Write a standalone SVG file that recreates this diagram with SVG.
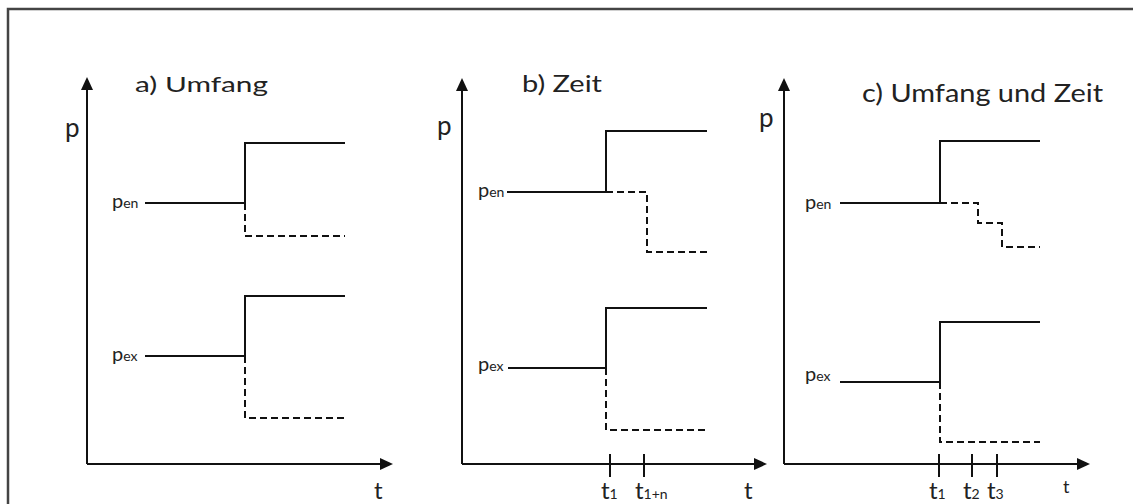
<svg xmlns="http://www.w3.org/2000/svg" width="1133" height="504" viewBox="0 0 1133 504">
<style>
text{font-family:Lato,"Open Sans","Liberation Sans",sans-serif;fill:#222}
.ax{stroke:#111;stroke-width:2;fill:none;marker-end:url(#arr)}
.sol{stroke:#111;stroke-width:2;fill:none}
.dash{stroke:#111;stroke-width:2;fill:none;stroke-dasharray:7,4}
.tick{stroke:#111;stroke-width:2}
.ttl{font-size:22px}
.p{font-size:26px}
.ps{font-size:20px}
.sub{font-size:14px}
.t{font-size:24px}
.ts{font-size:14px}
</style>
<defs>
<marker id="arr" markerUnits="userSpaceOnUse" markerWidth="14" markerHeight="12" refX="3" refY="6" orient="auto">
<path d="M0,0 L13,6 L0,12 z" fill="#111"/>
</marker>
</defs>
<rect width="1133" height="504" fill="#fff"/>
<g id="frame">
<path d="M8,504 V9 H1133" stroke="#444" stroke-width="2.5" fill="none"/>
</g>
<g id="panel-a">
<g id="axes-a">
<path class="ax" d="M87,464 V87"/>
<path class="ax" d="M87,464 H383"/>
</g>
<text class="ttl" x="135" y="92" textLength="133" lengthAdjust="spacingAndGlyphs">a) Umfang</text>
<text class="p" x="65" y="137">p</text>
<text x="112" y="208"><tspan class="ps">p</tspan><tspan class="sub">en</tspan></text>
<text x="112" y="361"><tspan class="ps">p</tspan><tspan class="sub">ex</tspan></text>
<path class="sol" d="M145,203 H245 V143 H345"/>
<path class="dash" d="M245,203 V236 H345"/>
<path class="sol" d="M145,356 H245 V296 H345"/>
<path class="dash" d="M245,356 V418 H345"/>
<text class="t" x="374" y="499">t</text>
</g>
<g id="panel-b">
<g id="axes-b">
<path class="ax" d="M462,464 V88"/>
<path class="ax" d="M462,464 H757"/>
</g>
<text class="ttl" x="522" y="92" textLength="80" lengthAdjust="spacingAndGlyphs" style="font-size:24px">b) Zeit</text>
<text class="p" x="437" y="135">p</text>
<text x="478" y="197"><tspan class="ps">p</tspan><tspan class="sub">en</tspan></text>
<text x="478" y="371"><tspan class="ps">p</tspan><tspan class="sub">ex</tspan></text>
<path class="sol" d="M507,192 H606 V131 H707"/>
<path class="dash" d="M606,192 H647 V252 H707"/>
<path class="sol" d="M508,368 H606 V308 H707"/>
<path class="dash" d="M606,368 V430 H707"/>
<line class="tick" x1="610" y1="454" x2="610" y2="477"/>
<line class="tick" x1="644" y1="454" x2="644" y2="477"/>
<text x="601" y="499"><tspan class="t">t</tspan><tspan class="ts">1</tspan></text>
<text x="635" y="499"><tspan class="t">t</tspan><tspan class="ts">1+n</tspan></text>
<text class="t" x="744" y="499">t</text>
</g>
<g id="panel-c">
<g id="axes-c">
<path class="ax" d="M784,464 V88"/>
<path class="ax" d="M784,464 H1080"/>
</g>
<text class="ttl" x="862" y="102" textLength="241" lengthAdjust="spacingAndGlyphs" style="font-size:25px">c) Umfang und Zeit</text>
<text class="p" x="759" y="127">p</text>
<text x="805" y="209"><tspan class="ps">p</tspan><tspan class="sub">en</tspan></text>
<text x="805" y="381"><tspan class="ps">p</tspan><tspan class="sub">ex</tspan></text>
<path class="sol" d="M840,203 H940 V141 H1040"/>
<path class="dash" d="M940,203 H978 V223 H1002 V247 H1040"/>
<path class="sol" d="M840,382 H940 V322 H1040"/>
<path class="dash" d="M940,382 V442 H1040"/>
<line class="tick" x1="939" y1="454" x2="939" y2="477"/>
<line class="tick" x1="972" y1="454" x2="972" y2="477"/>
<line class="tick" x1="997" y1="454" x2="997" y2="477"/>
<text x="929" y="499"><tspan class="t">t</tspan><tspan class="ts">1</tspan></text>
<text x="963" y="499"><tspan class="t">t</tspan><tspan class="ts">2</tspan></text>
<text x="987" y="499"><tspan class="t">t</tspan><tspan class="ts">3</tspan></text>
<text x="1063" y="493" style="font-size:18px">t</text>
</g>
</svg>
